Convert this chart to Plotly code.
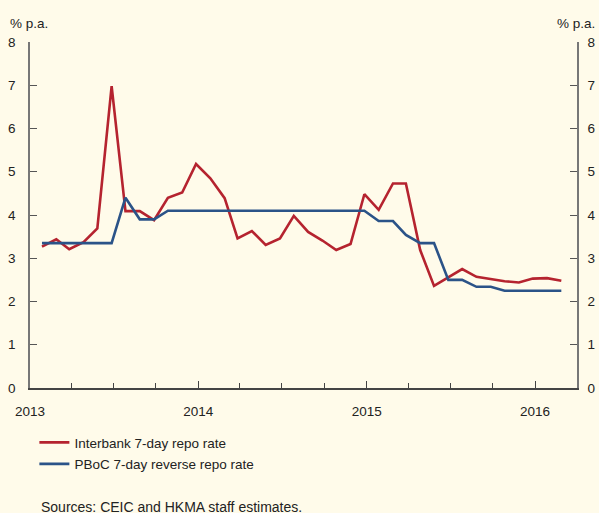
import plotly.graph_objects as go

months = [f"{2013 + (i // 12)}-{(i % 12) + 1:02d}-27" for i in range(38)]

interbank = [3.27, 3.44, 3.21, 3.37, 3.69, 6.98, 4.09, 4.09, 3.88, 4.40,
             4.52, 5.18, 4.85, 4.39, 3.46, 3.63, 3.31, 3.46, 3.98, 3.61,
             3.41, 3.19, 3.33, 4.48, 4.12, 4.73, 4.73, 3.19, 2.36, 2.55,
             2.75, 2.57, 2.52, 2.47, 2.44, 2.53, 2.54, 2.48]

pboc = [3.35, 3.35, 3.35, 3.35, 3.35, 3.35, 4.40, 3.90, 3.90, 4.10,
        4.10, 4.10, 4.10, 4.10, 4.10, 4.10, 4.10, 4.10, 4.10, 4.10,
        4.10, 4.10, 4.10, 4.10, 3.86, 3.86, 3.54, 3.35, 3.35, 2.50,
        2.50, 2.34, 2.34, 2.25, 2.25, 2.25, 2.25, 2.25]

year_ticks = ["2013-01-01", "2014-01-01", "2015-01-01", "2016-01-01"]
year_labels = ["2013", "2014", "2015", "2016"]
y_ticks = [0, 1, 2, 3, 4, 5, 6, 7, 8]

RED = "#b5232f"
BLUE = "#2b5388"
BG = "#fffbea"
FONT = "Liberation Sans, Arial, sans-serif"
FS = 13.5

fig = go.Figure()
fig.add_trace(go.Scatter(x=months, y=interbank, mode="lines",
                         name="Interbank 7-day repo rate", legendgroup="a",
                         line=dict(color=RED, width=2.6)))
fig.add_trace(go.Scatter(x=months, y=pboc, mode="lines",
                         name="PBoC 7-day reverse repo rate", legendgroup="b",
                         line=dict(color=BLUE, width=2.6)))
fig.add_trace(go.Scatter(x=months, y=pboc, mode="lines", yaxis="y2",
                         showlegend=False, hoverinfo="skip",
                         line=dict(color="rgba(0,0,0,0)", width=0)))

fig.update_layout(
    width=599, height=513,
    margin=dict(l=30, r=22, t=42, b=125, autoexpand=False),
    paper_bgcolor=BG, plot_bgcolor=BG,
    font=dict(family=FONT, size=FS, color="#222"),
    showlegend=True,
    legend=dict(x=0.008, y=-0.113, xanchor="left", yanchor="top",
                bgcolor="rgba(0,0,0,0)", tracegroupgap=1,
                font=dict(size=FS, color="#222")),
    xaxis=dict(range=["2013-01-01", "2016-04-01"], type="date",
               tickvals=year_ticks, ticktext=year_labels, automargin=False,
               ticks="inside", ticklen=7, tickwidth=1.3, tickcolor="#444",
               minor=dict(ticks="inside", ticklen=5, tickwidth=1.3,
                          tickcolor="#444", dtick="M3", tick0="2013-01-01"),
               showline=True, linecolor="#444", linewidth=1.5,
               showgrid=False, zeroline=False, ticklabelstandoff=10),
    yaxis=dict(range=[0, 8], tickvals=y_ticks, ticks="inside", ticklen=7,
               tickwidth=1.3, tickcolor="#555", showline=True, automargin=False,
               linecolor="#777", linewidth=1.5, showgrid=False,
               zeroline=False, ticklabelstandoff=10),
    yaxis2=dict(range=[0, 8], tickvals=y_ticks, ticks="inside", ticklen=7,
                tickwidth=1.3, tickcolor="#555", showline=True, automargin=False,
                linecolor="#777", linewidth=1.5, showgrid=False,
                zeroline=False, overlaying="y", side="right",
                ticklabelstandoff=6),
    annotations=[
        dict(text="% p.a.", xref="paper", yref="paper", x=-0.04, y=1.0,
             xanchor="left", yanchor="bottom", yshift=9, showarrow=False,
             font=dict(size=FS)),
        dict(text="% p.a.", xref="paper", yref="paper", x=1.036, y=1.0,
             xanchor="right", yanchor="bottom", yshift=9, showarrow=False,
             font=dict(size=FS)),
        dict(text="Sources: CEIC and HKMA staff estimates.", xref="paper",
             yref="paper", x=0.016, y=-0.344, xanchor="left",
             yanchor="middle", showarrow=False, font=dict(size=14)),
    ],
)

fig.write_html(
    "out.html",
    config={"displayModeBar": False},
    post_script="document.body.style.margin='0';"
                "document.body.style.overflow='hidden';"
                "document.body.style.background='" + BG + "';",
)
